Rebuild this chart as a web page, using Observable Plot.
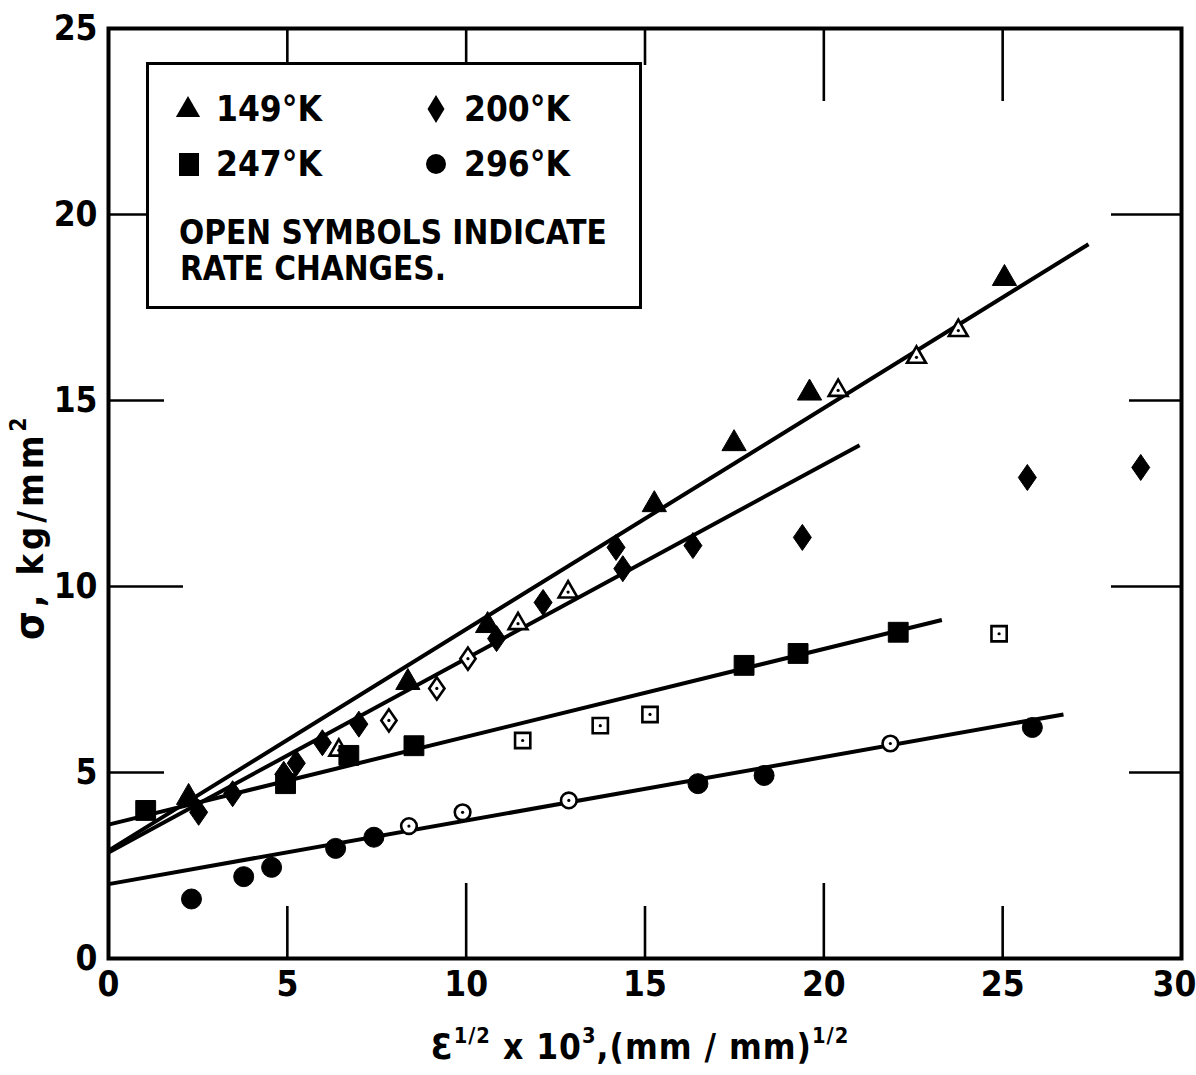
<!DOCTYPE html>
<html>
<head>
<meta charset="utf-8">
<script src="https://cdn.jsdelivr.net/npm/d3@7"></script>
<script src="https://cdn.jsdelivr.net/npm/@observablehq/plot@0.6"></script>
<style>
  body { margin: 0; background: #fff; }
  #wrap { position: relative; width: 1196px; height: 1075px; overflow: hidden; background: #fff;
          font-family: "DejaVu Sans"; font-stretch: condensed; color: #000; }
  #wrap svg text { font-stretch: condensed; }
  .abs { position: absolute; white-space: nowrap; line-height: 1; }
  .legendbox { position: absolute; left: 146px; top: 62px; width: 490px; height: 241px;
               border: 3.5px solid #000; background: #fff; }
  .leg { font-size: 35px; font-weight: bold; }
  .note { font-size: 33px; font-weight: bold; }
  .xtitle { font-size: 35px; font-weight: bold; letter-spacing: 1px; }
  .xtitle sup, .ytitle sup { font-size: 0.62em; vertical-align: 0; position: relative; top: -0.75em; }
  .ytitle { font-size: 36px; font-weight: bold; letter-spacing: 4px; transform: rotate(-90deg); transform-origin: center center; text-align: center; }
  .ytitle .sig { font-size: 1.15em; }
</style>
</head>
<body>
<div id="wrap"></div>
<script>
// ---- axis ticks ----
const xTicks = [0, 5, 10, 15, 20, 25];
const xTicksEnd = [30];
const yTicks = [0, 5, 10, 15, 20, 25];
const bottomLongTicks = [10, 20];
const bottomShortTicks = [5, 15, 25];
const topShortTicks = [5, 10, 15];
const topLongTicks = [20, 25];
const leftLongTicks = [10];
const leftShortTicks = [5, 15];
const leftBoxTicks = [20];
const rightLongTicks = [10, 20];
const rightShortTicks = [5, 15];

// ---- series (x = eps^1/2 x 10^3, y = sigma kg/mm^2), open = rate change ----
const temps = ["149°K", "200°K", "247°K", "296°K"];

const k149X    = [2.24, 8.37, 10.6, 15.26, 17.49, 19.6, 25.05, 6.44, 11.45, 12.85, 20.4, 22.59, 23.76];
const k149Y    = [4.33, 7.42, 8.95, 12.2, 13.84, 15.2, 18.28, 5.6, 9.0, 9.85, 15.27, 16.16, 16.88];
const k149Open = [0, 0, 0, 0, 0, 0, 0, 1, 1, 1, 1, 1, 1];

const k200X    = [2.52, 3.47, 4.9, 5.25, 5.98, 7.0, 10.85, 12.15, 14.19, 14.38, 16.34, 19.4, 25.69, 28.86, 7.84, 9.18, 10.05];
const k200Y    = [3.93, 4.43, 4.95, 5.25, 5.8, 6.3, 8.6, 9.57, 11.05, 10.48, 11.1, 11.32, 12.93, 13.2, 6.4, 7.26, 8.06];
const k200Open = [0, 0, 0, 0, 0, 0, 0, 0, 0, 0, 0, 0, 0, 0, 1, 1, 1];

const k247X    = [1.04, 4.95, 6.72, 8.54, 17.77, 19.28, 22.08, 11.58, 13.75, 15.14, 24.9];
const k247Y    = [3.98, 4.7, 5.46, 5.72, 7.88, 8.2, 8.77, 5.86, 6.26, 6.56, 8.73];
const k247Open = [0, 0, 0, 0, 0, 0, 0, 1, 1, 1, 1];

const k296X    = [2.32, 3.78, 4.56, 6.35, 7.42, 16.48, 18.33, 25.83, 8.4, 9.9, 12.87, 21.86];
const k296Y    = [1.6, 2.2, 2.45, 2.96, 3.26, 4.7, 4.92, 6.21, 3.56, 3.93, 4.25, 5.78];
const k296Open = [0, 0, 0, 0, 0, 0, 0, 0, 1, 1, 1, 1];

// ---- fitted straight lines (start / end) ----
const fitTemps = ["149°K", "200°K", "247°K", "296°K"];
const fitX1 = [0, 0, 0, 0];
const fitY1 = [2.9, 2.85, 3.6, 2.0];
const fitX2 = [27.4, 21.0, 23.3, 26.7];
const fitY2 = [19.2, 13.8, 9.1, 6.56];

// ---- build tables ----
function rows(temp, xs, ys, open) {
  return xs.map((x, i) => ({temp, x, y: ys[i], open: !!open[i]}));
}
const s149 = rows(temps[0], k149X, k149Y, k149Open);
const s200 = rows(temps[1], k200X, k200Y, k200Open);
const s247 = rows(temps[2], k247X, k247Y, k247Open);
const s296 = rows(temps[3], k296X, k296Y, k296Open);
const fits = fitTemps.map((t, i) => ({temp: t, x1: fitX1[i], y1: fitY1[i], x2: fitX2[i], y2: fitY2[i]}));

// tall diamond symbol
const tallDiamond = {
  draw(context, size) {
    const r = Math.sqrt(size / Math.PI);
    context.moveTo(0, -1.3 * r);
    context.lineTo(0.9 * r, 0);
    context.lineTo(0, 1.3 * r);
    context.lineTo(-0.9 * r, 0);
    context.closePath();
  }
};

function seriesMarks(data, symbol, rFill, rOpen) {
  const filled = data.filter(d => !d.open);
  const open = data.filter(d => d.open);
  return [
    Plot.dot(filled, {x: "x", y: "y", symbol, r: rFill, fill: "#000", stroke: "#000", strokeWidth: 1}),
    Plot.dot(open, {x: "x", y: "y", symbol, r: rOpen, fill: "#fff", stroke: "#000", strokeWidth: 2.6}),
    Plot.dot(open, {x: "x", y: "y", r: 1.6, fill: "#000"})
  ];
}

const tickStyle = {fill: "none", label: null, strokeWidth: 2.6, stroke: "#000"};
const labelStyle = {tickSize: 0, fontSize: 35, fontWeight: "bold", label: null};

const chart = Plot.plot({
  width: 1196,
  height: 1075,
  marginTop: 28,
  marginRight: 15,
  marginBottom: 117,
  marginLeft: 108,
  x: {domain: [0, 30]},
  y: {domain: [0, 25]},
  style: {fontFamily: "DejaVu Sans", fontStretch: "condensed", background: "transparent", color: "#000"},
  marks: [
    Plot.axisX({ticks: xTicks, tickPadding: 13, ...labelStyle}),
    Plot.axisX({ticks: xTicksEnd, tickPadding: 13, dx: -7, ...labelStyle}),
    Plot.axisY({ticks: yTicks, tickPadding: 11, ...labelStyle}),
    Plot.axisX({anchor: "bottom", ticks: bottomLongTicks, tickSize: -75, ...tickStyle}),
    Plot.axisX({anchor: "bottom", ticks: bottomShortTicks, tickSize: -52, ...tickStyle}),
    Plot.axisX({anchor: "top", ticks: topShortTicks, tickSize: -36, ...tickStyle}),
    Plot.axisX({anchor: "top", ticks: topLongTicks, tickSize: -72, ...tickStyle}),
    Plot.axisY({anchor: "left", ticks: leftLongTicks, tickSize: -75, ...tickStyle}),
    Plot.axisY({anchor: "left", ticks: leftShortTicks, tickSize: -56, ...tickStyle}),
    Plot.axisY({anchor: "left", ticks: leftBoxTicks, tickSize: -40, ...tickStyle}),
    Plot.axisY({anchor: "right", ticks: rightLongTicks, tickSize: -71, ...tickStyle}),
    Plot.axisY({anchor: "right", ticks: rightShortTicks, tickSize: -53, ...tickStyle}),
    Plot.frame({stroke: "#000", strokeWidth: 4}),
    Plot.link(fits, {x1: "x1", y1: "y1", x2: "x2", y2: "y2", stroke: "#000", strokeWidth: 4}),
    ...seriesMarks(s149, d3.symbolTriangle, 9, 7.0),
    ...seriesMarks(s200, tallDiamond, 10, 8.5),
    ...seriesMarks(s247, d3.symbolSquare, 11.2, 8.6),
    ...seriesMarks(s296, "circle", 10, 7.8)
  ]
});

const wrap = document.getElementById("wrap");
wrap.appendChild(chart);
chart.style.position = "absolute";
chart.style.left = "0px";
chart.style.top = "0px";

// ---- legend inside the plot area ----
const box = document.createElement("div");
box.className = "legendbox";
wrap.appendChild(box);

function legendSymbol(kind, cx, cy) {
  const s = d3.create("svg").attr("width", 30).attr("height", 34)
    .style("position", "absolute").style("left", (cx - 15) + "px").style("top", (cy - 17) + "px");
  const g = s.append("g").attr("transform", "translate(15,17)");
  if (kind === "tri") g.append("path").attr("d", d3.symbol(d3.symbolTriangle, Math.PI * 9 * 9)()).attr("fill", "#000").attr("transform", "translate(0,1)");
  if (kind === "dia") g.append("path").attr("d", "M0,-14L8.5,0L0,14L-8.5,0Z").attr("fill", "#000");
  if (kind === "sq") g.append("rect").attr("x", -10).attr("y", -11).attr("width", 20).attr("height", 23).attr("fill", "#000");
  if (kind === "cir") g.append("circle").attr("r", 10).attr("fill", "#000");
  wrap.appendChild(s.node());
}
function label(text, cls, left, capCenter, size) {
  const d = document.createElement("div");
  d.className = "abs " + cls;
  d.textContent = text;
  d.style.left = left + "px";
  d.style.top = (capCenter - size * 0.48) + "px";
  wrap.appendChild(d);
}
legendSymbol("tri", 188, 109);
label(temps[0], "leg", 216, 109, 35);
legendSymbol("dia", 436, 109);
label(temps[1], "leg", 464, 109, 35);
legendSymbol("sq", 189, 164);
label(temps[2], "leg", 216, 164, 35);
legendSymbol("cir", 436, 164);
label(temps[3], "leg", 464, 164, 35);
label("OPEN SYMBOLS INDICATE", "note", 179, 232, 33);
label("RATE CHANGES.", "note", 180, 268, 33);

// ---- axis titles ----
const xt = document.createElement("div");
xt.className = "abs xtitle";
xt.innerHTML = "Ɛ<sup>1/2</sup> x 10<sup>3</sup>,(mm / mm)<sup>1/2</sup>";
xt.style.left = "340px";
xt.style.width = "600px";
xt.style.textAlign = "center";
xt.style.top = "1030px";
wrap.appendChild(xt);

const yt = document.createElement("div");
yt.className = "abs ytitle";
yt.innerHTML = "<span class='sig'>σ</span>, kg/mm<sup>2</sup>";
yt.style.width = "320px";
yt.style.left = (30 - 160) + "px";
yt.style.top = (524 - 18) + "px";
wrap.appendChild(yt);
</script>
</body>
</html>
